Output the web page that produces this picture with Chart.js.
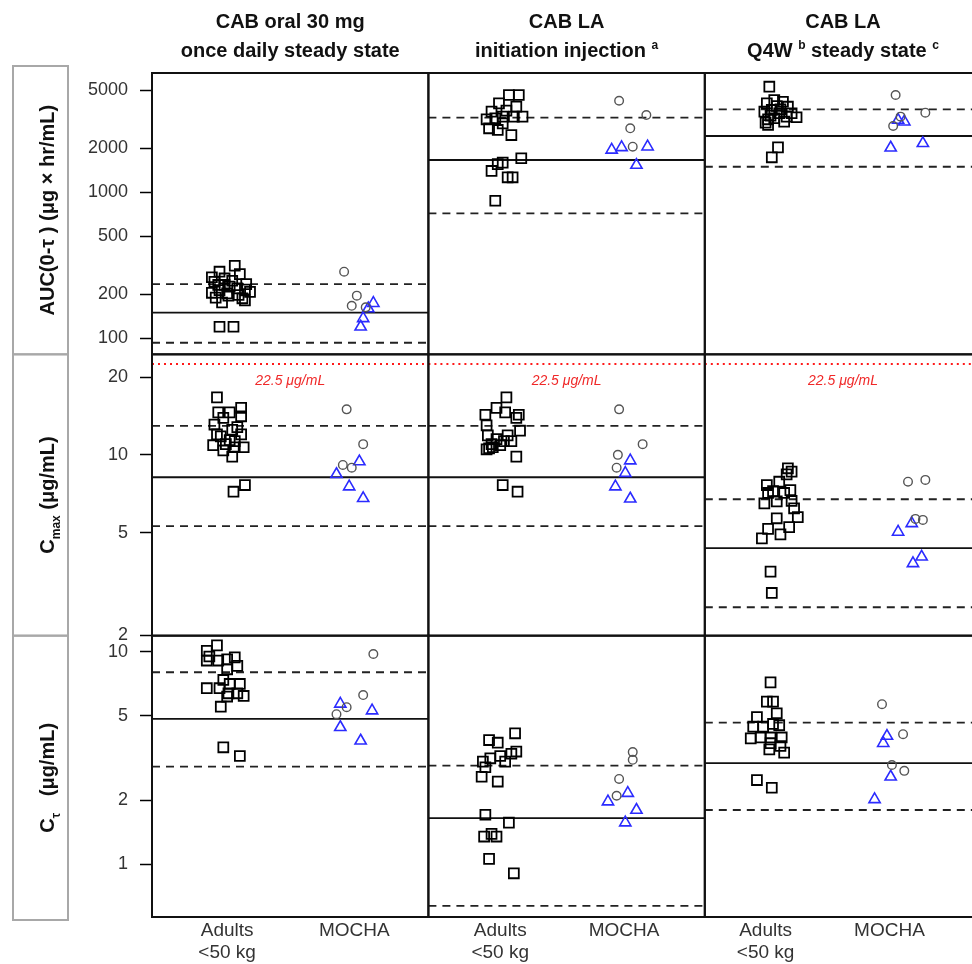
<!DOCTYPE html>
<html>
<head>
<meta charset="utf-8">
<script src="https://cdn.jsdelivr.net/npm/chart.js@4.4.0/dist/chart.umd.min.js"></script>
<style>
html, body { margin: 0; padding: 0; background: #fff; overflow: hidden; }
canvas { display: block; }
</style>
</head>
<body>
<canvas id="pk" width="990" height="964"></canvas>
<script>
// categories
const groupLabels = [['Adults', '<50 kg'], 'MOCHA'];
const colTitles = [
    [[['CAB oral 30 mg', 0]], [['once daily steady state', 0]]],
    [[['CAB LA', 0]], [['initiation injection ', 0], ['a', 2]]],
    [[['CAB LA', 0]], [['Q4W ', 0], ['b', 2], [' steady state ', 0], ['c', 2]]]
];
// 0 normal, 1 subscript, 2 superscript
const rowTitles = [
    [['AUC(0-τ ) (μg × hr/mL)', 0]],
    [['C', 0], ['max', 1], [' (μg/mL)', 0]],
    [['C', 0], ['τ', 1], ['   (μg/mL)', 0]]
];

// tick labels and axis ranges
const aucTicks = [100, 200, 500, 1000, 2000, 5000];
const cmaxTicks = [2, 5, 10, 20];
const ctTicks = [1, 2, 5, 10];
const aucRange = [77.7, 6560];
const cmaxRange = [1.995, 24.5];
const ctRange = [0.565, 11.89];
const xRanges = [[0.409, 2.583], [0.42, 2.652], [0.509, 2.741]];

// points: [jitter from category, value], one list per column
const aucAdults = [
    [[0.06,314],[0.10,275],[-0.06,286],[-0.10,244],[-0.02,257],[0.02,226],[0.08,220],[0.14,216],[-0.06,214],[0.00,203],[0.12,188],[-0.04,176],[-0.06,120],[0.05,120],[-0.12,262],[-0.07,232],[0.04,248],[0.15,235],[-0.12,205],[0.09,198],[0.18,208],[0.01,196],[-0.09,190],[0.14,182],[-0.02,232]],
    [[0.07,4637],[0.15,4637],[-0.01,4066],[0.13,3861],[-0.07,3567],[0.05,3623],[-0.11,3161],[-0.04,3213],[0.02,3297],[0.11,3297],[0.18,3297],[-0.09,2743],[-0.02,2673],[0.09,2467],[0.02,2966],[0.17,1710],[0.02,1596],[-0.02,1560],[-0.07,1400],[0.06,1267],[0.10,1267],[-0.04,875]],
    [[0.03,5284],[0.01,4066],[0.07,4285],[0.14,4169],[0.18,3855],[-0.01,3565],[0.05,3662],[0.11,3477],[0.21,3477],[0.25,3266],[0.02,3162],[0.07,3213],[0.15,3044],[0.02,2890],[0.10,2032],[0.05,1737],[0.09,3900],[0.04,3350],[0.12,3700],[0.17,3300],[0.00,3000]]
];
const aucCircles = [
    [[-0.08,286],[0.02,196],[-0.02,167],[0.09,163]],
    [[-0.04,4236],[0.18,3379],[0.05,2743],[0.07,2052]],
    [[0.05,4637],[0.29,3510],[0.03,2845],[0.09,3297]]
];
const aucTriangles = [
    [[0.15,174],[0.11,160],[0.07,137],[0.05,120]],
    [[-0.10,1951],[-0.02,2032],[0.19,2052],[0.10,1537]],
    [[0.07,3124],[0.12,3044],[0.01,2018],[0.27,2165]]
];

const cmaxAdults = [
    [[-0.08,16.7],[-0.07,14.6],[0.02,14.6],[0.11,15.2],[0.11,14.1],[-0.03,13.9],[-0.10,13.1],[0.04,12.5],[-0.08,12.0],[0.11,12.0],[0.02,11.4],[0.06,11.3],[-0.11,10.9],[-0.03,10.4],[0.06,10.7],[0.13,10.7],[0.04,9.84],[0.05,7.20],[0.14,7.64],[-0.01,11.0],[0.08,12.8],[-0.05,11.8]],
    [[0.05,16.7],[-0.03,15.2],[0.04,14.6],[-0.12,14.3],[0.15,14.3],[0.13,13.9],[-0.11,13.0],[0.16,12.4],[-0.10,11.9],[0.06,11.9],[-0.03,11.5],[0.09,11.3],[-0.07,11.0],[0.00,10.9],[-0.11,10.5],[0.13,9.84],[0.02,7.64],[0.14,7.20],[-0.06,10.7],[0.03,11.3],[-0.09,10.6]],
    [[0.18,8.87],[0.21,8.61],[0.17,8.4],[0.01,7.64],[0.11,7.87],[0.06,7.24],[0.20,7.3],[0.02,7.12],[0.15,7.12],[-0.01,6.49],[0.09,6.6],[0.21,6.63],[0.23,6.21],[0.09,5.68],[0.26,5.74],[0.02,5.17],[0.19,5.25],[0.12,4.92],[-0.03,4.75],[0.04,3.53],[0.05,2.92]]
];
const cmaxCircles = [
    [[-0.06,15.0],[0.07,11.0],[-0.09,9.14],[-0.02,8.92]],
    [[-0.04,15.0],[0.15,11.0],[-0.05,10.0],[-0.06,8.92]],
    [[0.15,7.87],[0.29,8.0],[0.21,5.65],[0.27,5.6]]
];
const cmaxTriangles = [
    [[0.04,9.42],[-0.14,8.41],[-0.04,7.53],[0.07,6.79]],
    [[0.05,9.5],[0.01,8.5],[-0.07,7.53],[0.05,6.76]],
    [[0.07,5.03],[0.18,5.43],[0.19,3.80],[0.26,4.03]]
];

const ctAdults = [
    [[-0.08,10.7],[-0.16,10.1],[-0.14,9.49],[-0.16,9.08],[-0.07,9.08],[0.00,9.2],[0.06,9.4],[0.08,8.57],[0.00,8.26],[-0.03,7.36],[0.10,7.05],[0.02,7.05],[-0.16,6.73],[-0.06,6.73],[0.01,6.37],[0.08,6.37],[0.13,6.19],[0.00,6.15],[-0.05,5.51],[-0.03,3.55],[0.10,3.23]],
    [[0.12,4.13],[-0.09,3.84],[-0.02,3.73],[0.13,3.39],[0.09,3.31],[0.00,3.23],[-0.08,3.15],[0.04,3.04],[-0.14,3.04],[-0.12,2.86],[-0.15,2.58],[-0.02,2.45],[-0.12,1.71],[0.07,1.57],[-0.13,1.35],[-0.07,1.39],[-0.03,1.35],[-0.09,1.06],[0.11,0.907]],
    [[0.04,7.17],[0.01,5.82],[0.06,5.82],[0.09,5.13],[-0.07,4.92],[0.06,4.57],[-0.10,4.44],[-0.02,4.44],[0.11,4.51],[-0.12,3.91],[-0.04,3.95],[0.04,3.95],[0.13,3.95],[0.04,3.71],[0.12,3.60],[0.03,3.47],[0.15,3.35],[-0.07,2.49],[0.05,2.29]]
];
const ctCircles = [
    [[0.15,9.75],[0.07,6.25],[-0.06,5.48],[-0.14,5.08]],
    [[0.07,3.37],[0.07,3.1],[-0.04,2.52],[-0.06,2.10]],
    [[-0.06,5.66],[0.11,4.09],[0.02,2.93],[0.12,2.75]]
];
const ctTriangles = [
    [[-0.11,5.68],[0.14,5.28],[-0.11,4.41],[0.05,3.81]],
    [[-0.13,1.97],[0.03,2.16],[0.10,1.80],[0.01,1.57]],
    [[-0.02,4.01],[-0.05,3.71],[0.01,2.58],[-0.12,2.02]]
];

// reference lines per column: [median, lower, upper]
const aucRef = [[150, 93.3, 235], [1664, 718, 3243], [2430, 1496, 3700]];
const cmaxRef = [[8.19, 5.30, 12.94], [8.19, 5.30, 12.94], [4.35, 2.57, 6.73]];
const ctRef = [[4.83, 2.88, 8.0], [1.65, 0.637, 2.91], [2.99, 1.80, 4.64]];
const cmaxLimit = 22.5;
const cmaxLimitLabel = '22.5 μg/mL';

const FONT = "'Liberation Sans', Arial, sans-serif";
Chart.defaults.font.family = FONT;

const rows = [
    {id: 'yAuc', adults: aucAdults, circles: aucCircles, tri: aucTriangles, ref: aucRef, ticks: aucTicks, range: aucRange, weight: 3},
    {id: 'yCmax', adults: cmaxAdults, circles: cmaxCircles, tri: cmaxTriangles, ref: cmaxRef, ticks: cmaxTicks, range: cmaxRange, weight: 2, limit: cmaxLimit},
    {id: 'yCt', adults: ctAdults, circles: ctCircles, tri: ctTriangles, ref: ctRef, ticks: ctTicks, range: ctRange, weight: 1}
];

let datasets = [];
rows.forEach(row => {
    for (let c = 0; c < 3; c++) {
        const xid = 'x' + c;
        const xr = xRanges[c];
        const hline = (v, style) => Object.assign({
            type: 'line', xAxisID: xid, yAxisID: row.id,
            data: [{x: xr[0], y: v}, {x: xr[1], y: v}],
            pointRadius: 0, fill: false, borderColor: '#111', borderWidth: 1.8, order: 5
        }, style);
        datasets.push(hline(row.ref[c][0], {}));
        datasets.push(hline(row.ref[c][1], {borderDash: [8, 6], borderColor: '#222'}));
        datasets.push(hline(row.ref[c][2], {borderDash: [8, 6], borderColor: '#222'}));
        if (row.limit) {
            datasets.push(hline(row.limit, {borderDash: [2, 4], borderColor: '#ff1a1a', borderWidth: 2}));
        }
        datasets.push({
            xAxisID: xid, yAxisID: row.id,
            data: row.adults[c].map(p => ({x: 1 + p[0], y: p[1]})),
            pointStyle: 'rect', pointRadius: 7, borderColor: '#000', borderWidth: 1.8,
            backgroundColor: 'rgba(0,0,0,0)', order: 1
        });
        datasets.push({
            xAxisID: xid, yAxisID: row.id,
            data: row.circles[c].map(p => ({x: 2 + p[0], y: p[1]})),
            pointStyle: 'circle', pointRadius: 4.3, borderColor: '#555', borderWidth: 1.4,
            backgroundColor: 'rgba(0,0,0,0)', order: 1
        });
        datasets.push({
            xAxisID: xid, yAxisID: row.id,
            data: row.tri[c].map(p => ({x: 2 + p[0], y: p[1]})),
            pointStyle: 'triangle', pointRadius: 6.5, borderColor: '#2b2bff', borderWidth: 1.6,
            backgroundColor: 'rgba(0,0,0,0)', order: 1
        });
    }
});

const scales = {};
xRanges.forEach((rg, c) => {
    scales['x' + c] = {
        type: 'linear', position: 'bottom', stack: 'cols', stackWeight: 1, weight: c + 1,
        min: rg[0], max: rg[1],
        grid: {display: false, drawTicks: false},
        border: {display: false},
        afterBuildTicks: ax => { ax.ticks = [{value: 1}, {value: 2}]; },
        afterFit: ax => { ax.height = 47; ax.paddingLeft = 0; ax.paddingRight = 0; },
        ticks: {
            autoSkip: false, maxRotation: 0, minRotation: 0, padding: 3, color: '#333',
            font: {size: 19, lineHeight: 1.15},
            callback: (v, i) => groupLabels[i]
        }
    };
});
rows.forEach(row => {
    scales[row.id] = {
        type: 'logarithmic', position: 'left', stack: 'rows', stackWeight: 1, weight: row.weight,
        min: row.range[0], max: row.range[1],
        grid: {display: true, drawOnChartArea: false, drawTicks: true, tickLength: 12, tickColor: '#000', tickWidth: 1.5},
        border: {display: true, color: '#000', width: 2},
        afterBuildTicks: ax => { ax.ticks = row.ticks.map(v => ({value: v})); },
        afterFit: ax => { ax.width = 152; ax.paddingTop = 0; ax.paddingBottom = 0; },
        ticks: {autoSkip: false, padding: 12, color: '#333', font: {size: 18}, callback: v => String(v)}
    };
});

function drawRich(ctx, segs, x, y, size, bold) {
    const w = bold ? 'bold ' : '';
    const fontFor = s => s[1] ? w + Math.round(size * 0.6) + 'px ' + FONT : w + size + 'px ' + FONT;
    let total = 0;
    segs.forEach(s => { ctx.font = fontFor(s); total += ctx.measureText(s[0]).width; });
    let cx = x - total / 2;
    ctx.textAlign = 'left';
    ctx.textBaseline = 'alphabetic';
    segs.forEach(s => {
        ctx.font = fontFor(s);
        const dy = s[1] === 1 ? size * 0.28 : (s[1] === 2 ? -size * 0.38 : 0);
        ctx.fillText(s[0], cx, y + dy);
        cx += ctx.measureText(s[0]).width;
    });
}

const panelPlugin = {
    id: 'panels',
    afterDatasetsDraw(chart) {
        const ctx = chart.ctx;
        ctx.save();
        // limit label under the red line
        const cy = chart.scales.yCmax;
        for (let c = 0; c < 3; c++) {
            const xa = chart.scales['x' + c];
            ctx.fillStyle = '#f02828';
            ctx.font = 'italic 14px ' + FONT;
            ctx.textAlign = 'center';
            ctx.textBaseline = 'middle';
            ctx.fillText(cmaxLimitLabel, (xa.left + xa.right) / 2, cy.getPixelForValue(cmaxLimit) + 17);
        }
        // panel frames
        ctx.strokeStyle = '#111';
        ctx.lineWidth = 2;
        rows.forEach(row => {
            const ya = chart.scales[row.id];
            for (let c = 0; c < 3; c++) {
                const xa = chart.scales['x' + c];
                ctx.strokeRect(xa.left, ya.top, xa.right - xa.left, ya.bottom - ya.top);
            }
        });
        ctx.restore();
    },
    afterDraw(chart) {
        const ctx = chart.ctx;
        ctx.save();
        ctx.fillStyle = '#111';
        const top = chart.chartArea.top;
        colTitles.forEach((lines, c) => {
            const xa = chart.scales['x' + c];
            const cx = (xa.left + xa.right) / 2;
            drawRich(ctx, lines[0], cx, top - 45, 20, true);
            drawRich(ctx, lines[1], cx, top - 16, 20, true);
        });
        rows.forEach((row, r) => {
            const ya = chart.scales[row.id];
            const t = r === 0 ? ya.top - 7 : ya.top;
            const b = r === 2 ? ya.bottom + 3 : ya.bottom;
            ctx.strokeStyle = '#a8a8a8';
            ctx.lineWidth = 2;
            ctx.strokeRect(13, t, 55, b - t);
            ctx.save();
            ctx.translate(54, (t + b) / 2);
            ctx.rotate(-Math.PI / 2);
            ctx.fillStyle = '#111';
            drawRich(ctx, rowTitles[r], 0, 0, 20, true);
            ctx.restore();
        });
        ctx.restore();
    }
};

new Chart(document.getElementById('pk'), {
    type: 'scatter',
    data: {datasets: datasets},
    options: {
        responsive: false,
        animation: false,
        events: [],
        layout: {padding: {top: 73, right: 8, bottom: 0, left: 0}},
        plugins: {legend: {display: false}, tooltip: {enabled: false}},
        scales: scales
    },
    plugins: [panelPlugin]
});
</script>
</body>
</html>
